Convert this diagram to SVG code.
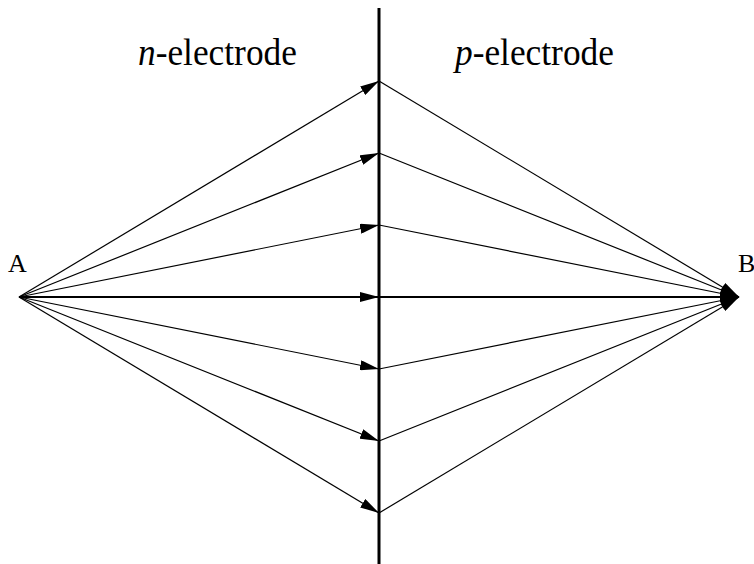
<svg xmlns="http://www.w3.org/2000/svg" width="754" height="564" viewBox="0 0 754 564">
<style>
.c{stroke:#000;stroke-width:1.2;fill:none;marker-end:url(#ah)}
.h{stroke-width:1.8}
.t{font-family:'Liberation Serif','Times New Roman',serif;fill:#000}
</style>
<defs>
<marker id="ah" viewBox="0 0 19 10" refX="19" refY="5" markerWidth="19" markerHeight="10" markerUnits="userSpaceOnUse" orient="auto">
<path d="M0,0 L19,5 L0,10 z" fill="#000"/>
</marker>
</defs>
<rect width="754" height="564" fill="#fff"/>
<g id="electrode-boundary">
<line x1="379" y1="8" x2="379" y2="564" stroke="#000" stroke-width="3"/>
</g>
<g id="label-n" transform="translate(138,65) scale(0.93,1)"><text class="t" x="0" y="0" font-size="38"><tspan font-style="italic">n</tspan>-electrode</text></g>
<g id="label-p" transform="translate(455,65) scale(0.93,1)"><text class="t" x="0" y="0" font-size="38"><tspan font-style="italic">p</tspan>-electrode</text></g>
<g id="node-A"><text class="t" x="8" y="272" font-size="26">A</text></g>
<g id="node-B"><text class="t" x="738" y="272" font-size="26">B</text></g>
<g id="connectors">
<line class="c" x1="19" y1="297" x2="379" y2="81"/>
<line class="c" x1="19" y1="297" x2="379" y2="153"/>
<line class="c" x1="19" y1="297" x2="379" y2="225"/>
<line class="c h" x1="19" y1="297" x2="379" y2="297"/>
<line class="c" x1="19" y1="297" x2="379" y2="369"/>
<line class="c" x1="19" y1="297" x2="379" y2="441"/>
<line class="c" x1="19" y1="297" x2="379" y2="513"/>
<line class="c" x1="379" y1="81" x2="739" y2="297"/>
<line class="c" x1="379" y1="153" x2="739" y2="297"/>
<line class="c" x1="379" y1="225" x2="739" y2="297"/>
<line class="c h" x1="379" y1="297" x2="739" y2="297"/>
<line class="c" x1="379" y1="369" x2="739" y2="297"/>
<line class="c" x1="379" y1="441" x2="739" y2="297"/>
<line class="c" x1="379" y1="513" x2="739" y2="297"/>
</g>
</svg>
